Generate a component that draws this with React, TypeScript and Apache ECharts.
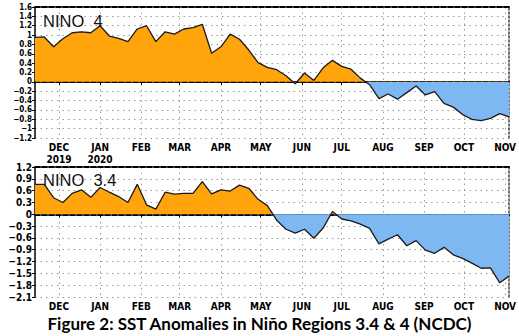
import React, { useEffect, useRef } from "react";
import * as echarts from "echarts";

// Weekly SST anomalies (°C), weeks starting 2019-11-13
const WEEK_DAYS = 7;
const nino4 = [
  0.95, 0.96, 0.75, 0.92, 1.05, 1.07, 1.05, 1.2, 0.98, 0.93,
  0.86, 1.13, 1.2, 0.86, 1.07, 1.02, 1.13, 1.16, 1.23, 0.61,
  0.75, 1.02, 0.91, 0.68, 0.41, 0.31, 0.26, 0.13, -0.04, 0.19,
  0.03, 0.3, 0.46, 0.33, 0.27, 0.08, -0.06, -0.36, -0.26, -0.37,
  -0.23, -0.09, -0.28, -0.21, -0.46, -0.54, -0.7, -0.8, -0.83, -0.78,
  -0.68, -0.75,
];
const nino34 = [
  0.76, 0.76, 0.42, 0.3, 0.53, 0.62, 0.43, 0.68, 0.56, 0.45,
  0.3, 0.76, 0.24, 0.13, 0.56, 0.51, 0.53, 0.53, 0.83, 0.52,
  0.62, 0.59, 0.74, 0.66, 0.38, 0.22, -0.15, -0.38, -0.48, -0.38,
  -0.61, -0.35, 0.07, -0.12, -0.17, -0.25, -0.36, -0.75, -0.63, -0.52,
  -0.8, -0.67, -0.91, -0.99, -0.84, -1.03, -1.12, -1.24, -1.37, -1.36,
  -1.74, -1.57,
];
// month ticks: days after 2019-11-13 of the 1st of each month
const monthStartDays = [18, 49, 80, 109, 140, 170, 201, 231, 262, 293, 323, 354];
const monthLabels = ["DEC", "JAN", "FEB", "MAR", "APR", "MAY", "JUN", "JUL", "AUG", "SEP", "OCT", "NOV"];
const topYearLabels: Record<string, string> = { DEC: "2019", JAN: "2020" };
const topY = { min: -1.2, max: 1.6, interval: 0.2 };
const bottomY = { min: -2.1, max: 1.2, interval: 0.3 };
const panelTitles = ["NINO  4", "NINO  3.4"];
const caption = "Figure 2: SST Anomalies in Niño Regions 3.4 & 4 (NCDC)";

const ORANGE = "#FFA40A";
const BLUE = "#7DB8F2";
const NARROW = "'Liberation Sans Narrow', 'Arial Narrow', 'DejaVu Sans Condensed', 'Liberation Sans', sans-serif";

export default function App() {
  const ref = useRef<HTMLDivElement>(null);
  useEffect(() => {
    if (!ref.current) return;
    const chart = echarts.init(ref.current, null, { renderer: "svg" });
    const toPts = (arr: number[]) => arr.map((v, i) => [i * WEEK_DAYS, v]);
    const maxDay = (nino4.length - 1) * WEEK_DAYS;
    const dayCats = Array.from({ length: maxDay + 1 }, (_, i) => String(i));

    const fmtY = (v: number) => String(Math.round(v * 10) / 10).replace("-", "\u2212");
    const isMonth = (idx: number) => monthStartDays.indexOf(idx) >= 0;
    const monthName = (idx: number) => monthLabels[monthStartDays.indexOf(idx)] || "";
    const dotted = { color: "#9a9a9a", type: [1.5, 4], width: 1 };

    // category axes for month ticks / labels / vertical grid
    const makeCatX = (gridIndex: number, top: boolean) => ({
      type: "category",
      gridIndex,
      data: dayCats,
      boundaryGap: false,
      axisLine: { show: true, lineStyle: { color: "#000", width: 2, type: [5, 2] } },
      axisTick: { show: true, interval: (i: number) => isMonth(i), length: 3, lineStyle: { color: "#000" } },
      axisLabel: {
        show: true,
        interval: (i: number) => isMonth(i),
        margin: 4,
        fontFamily: NARROW,
        fontWeight: "bold",
        fontSize: 10,
        color: "#000",
        lineHeight: 11.5,
        formatter: (_v: string, i: number) => {
          const m = monthName(i);
          return top && topYearLabels[m] ? `${m}\n${topYearLabels[m]}` : m;
        },
      },
      splitLine: { show: true, interval: (i: number) => isMonth(i), lineStyle: dotted },
    });
    // value axes carrying the series; drawn as the top frame line
    const makeValX = (gridIndex: number) => ({
      type: "value",
      gridIndex,
      position: "top",
      min: 0,
      max: maxDay,
      axisLine: { show: true, onZero: false, lineStyle: { color: "#000", width: 2, type: [5, 2] } },
      axisTick: { show: false },
      axisLabel: { show: false },
      splitLine: { show: false },
    });
    const makeY = (gridIndex: number, r: { min: number; max: number; interval: number }, fs: number, lh: number) => ({
      type: "value",
      gridIndex,
      min: r.min,
      max: r.max,
      interval: r.interval,
      axisLine: { show: true, lineStyle: { color: "#000", width: 1.5 } },
      axisTick: { show: true, length: 3, lineStyle: { color: "#000" } },
      axisLabel: {
        margin: 3,
        fontFamily: NARROW,
        fontSize: fs,
        lineHeight: lh,
        fontWeight: "bold",
        color: "#000",
        formatter: fmtY,
        showMinLabel: true,
        showMaxLabel: true,
        hideOverlap: false,
      },
      splitLine: { show: true, lineStyle: dotted },
    });
    const makeYRight = (gridIndex: number, r: { min: number; max: number; interval: number }) => ({
      type: "value",
      gridIndex,
      position: "right",
      min: r.min,
      max: r.max,
      interval: r.interval,
      axisLine: { show: true, lineStyle: { color: "#444", width: 1.5, type: [2, 2] } },
      axisTick: { show: false },
      axisLabel: { show: false },
      splitLine: { show: false },
    });

    const areaSeries = (xi: number, yi: number, data: number[][]) => ({
      type: "line",
      xAxisIndex: xi,
      yAxisIndex: yi,
      data,
      symbol: "none",
      lineStyle: { width: 0 },
      areaStyle: { opacity: 1 },
      z: 2,
    });
    const lineSeries = (xi: number, yi: number, data: number[][]) => ({
      type: "line",
      xAxisIndex: xi,
      yAxisIndex: yi,
      data,
      symbol: "none",
      lineStyle: { color: "#1a1a1a", width: 1.3 },
      z: 3,
    });
    const titleStyle = { fontFamily: "'Liberation Sans', Arial, sans-serif", fontWeight: "normal", fontSize: 16.5, color: "#111" };
    const pieces = [
      { gte: -10, lt: 0, color: BLUE },
      { gte: 0, lte: 10, color: ORANGE },
    ];

    chart.setOption({
      animation: false,
      backgroundColor: "#fff",
      title: [
        { text: panelTitles[0], left: 43, top: 12, padding: 0, textStyle: titleStyle },
        { text: panelTitles[1], left: 43, top: 171, padding: 0, textStyle: titleStyle },
        { text: caption, left: "center", top: 315, padding: 0, textStyle: { fontFamily: "Lato, 'Open Sans', sans-serif", fontWeight: "bold", fontSize: 17, color: "#000" } },
      ],
      grid: [
        { left: 35, top: 7, width: 475, height: 131 },
        { left: 35, top: 167, width: 475, height: 130 },
      ],
      xAxis: [makeCatX(0, true), makeCatX(1, false), makeValX(0), makeValX(1)],
      yAxis: [makeY(0, topY, 8, 8), makeY(1, bottomY, 10, 10), makeYRight(0, topY), makeYRight(1, bottomY)],
      visualMap: [
        { type: "piecewise", show: false, seriesIndex: 0, dimension: 1, pieces },
        { type: "piecewise", show: false, seriesIndex: 2, dimension: 1, pieces },
      ],
      series: [
        areaSeries(2, 0, toPts(nino4)),
        lineSeries(2, 0, toPts(nino4)),
        areaSeries(3, 1, toPts(nino34)),
        lineSeries(3, 1, toPts(nino34)),
      ],
    });
    return () => chart.dispose();
  }, []);
  return <div ref={ref} style={{ position: "absolute", left: 0, top: 0, width: 519, height: 336 }} />;
}
